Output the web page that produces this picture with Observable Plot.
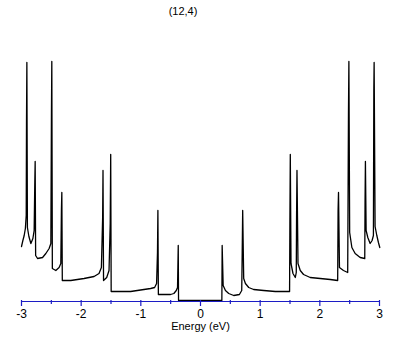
<!DOCTYPE html>
<html>
<head>
<meta charset="utf-8">
<script src="https://cdn.jsdelivr.net/npm/d3@7"></script>
<script src="https://cdn.jsdelivr.net/npm/@observablehq/plot@0.6"></script>
<style>
  html, body { margin: 0; padding: 0; background: #fff; }
  #wrap { position: relative; width: 409px; height: 345px; }
  #title { position: absolute; top: 5px; left: 183px; transform: translateX(-50%);
           font: 11px "Liberation Sans", "DejaVu Sans", sans-serif; color: #000; white-space: nowrap; }
</style>
</head>
<body>
<div id="wrap"><div id="title"></div></div>
<script>
const title = "(12,4)";
const xLabel = "Energy (eV)";
const xTicks = [-3, -2, -1, 0, 1, 2, 3];
const tickLabels = ["-3", "-2", "-1", "0", "1", "2", "3"];
const xMinorTicks = [-2.5, -1.5, -0.5, 0.5, 1.5, 2.5];

// Energy (eV) and density of states (arbitrary units)
const energy = [
  -3.000, -2.977, -2.955, -2.935, -2.921, -2.916, -2.910, -2.901, -2.876, -2.843,
  -2.809, -2.788, -2.777, -2.771, -2.763, -2.731, -2.647, -2.592, -2.537, -2.508,
  -2.498, -2.492, -2.483, -2.425, -2.370, -2.341, -2.331, -2.324, -2.316, -2.174,
  -1.952, -1.784, -1.701, -1.661, -1.640, -1.634, -1.625, -1.572, -1.533, -1.513,
  -1.505, -1.497, -1.171, -0.948, -0.836, -0.769, -0.736, -0.721, -0.714, -0.706,
  -0.502, -0.446, -0.406, -0.385, -0.373, -0.368, 0.358,
  0.363, 0.380, 0.418, 0.473, 0.557, 0.652, 0.691, 0.699, 0.707, 0.724,
  0.753, 0.808, 0.891, 1.059, 1.254, 1.493, 1.498, 1.505, 1.517, 1.550,
  1.589, 1.605, 1.610, 1.617, 1.634, 1.672, 1.727, 1.839, 2.007, 2.174,
  2.299, 2.306, 2.313, 2.329, 2.396, 2.467, 2.480, 2.487, 2.500, 2.537,
  2.592, 2.676, 2.753, 2.758, 2.764, 2.776, 2.804, 2.843, 2.876, 2.898,
  2.905, 2.910, 2.926, 2.955, 2.982, 3.005
];
const dos = [
  0.54, 0.60, 0.65, 0.72, 0.85, 1.80, 2.38, 0.73, 0.64, 0.57,
  0.62, 0.70, 1.18, 1.39, 0.45, 0.42, 0.43, 0.47, 0.52, 0.57,
  1.88, 2.39, 0.32, 0.30, 0.33, 0.37, 0.90, 1.08, 0.20, 0.20,
  0.22, 0.24, 0.27, 0.33, 0.83, 1.30, 0.20, 0.23, 0.30, 0.77,
  1.46, 0.09, 0.09, 0.11, 0.12, 0.13, 0.17, 0.48, 0.90, 0.06,
  0.06, 0.07, 0.10, 0.13, 0.55, 0.00, 0.00,
  0.55, 0.15, 0.10, 0.07, 0.05, 0.06, 0.10, 0.48, 0.90, 0.22,
  0.17, 0.13, 0.11, 0.10, 0.09, 0.09, 0.77, 1.46, 0.37, 0.27,
  0.23, 0.28, 0.83, 1.30, 0.37, 0.30, 0.26, 0.23, 0.22, 0.21,
  0.20, 0.90, 1.08, 0.33, 0.30, 0.28, 1.87, 2.39, 0.68, 0.53,
  0.47, 0.43, 0.42, 1.00, 1.39, 0.70, 0.63, 0.57, 0.60, 0.65,
  2.12, 2.38, 0.74, 0.65, 0.58, 0.53
];

const data = energy.map((e, i) => ({energy: e, dos: dos[i]}));
const blue = "#1c1cc4";
const font = "11px";

const chart = Plot.plot({
  width: 409,
  height: 345,
  marginLeft: 21,
  marginRight: 30,
  marginTop: 60,
  marginBottom: 45,
  style: {fontFamily: "'Liberation Sans', 'DejaVu Sans', sans-serif", fontSize: font, color: "#000", background: "#fff"},
  x: {domain: [-3, 3]},
  y: {domain: [0, 2.4], axis: null},
  marks: [
    Plot.lineY(data, {x: "energy", y: "dos", stroke: "#000", strokeWidth: 1.3, clip: false}),
    Plot.ruleY([0], {stroke: blue, strokeWidth: 1.2, dy: 1}),
    Plot.axisX({ticks: xTicks, tickSize: 6, tickPadding: 3, stroke: blue, strokeWidth: 1.2,
                fill: "#000", fontSize: 12, tickFormat: d => tickLabels[xTicks.indexOf(d)], label: null}),
    Plot.axisX({ticks: xMinorTicks, tickSize: 4, text: null, stroke: blue, strokeWidth: 1.2, label: null}),
    Plot.text([xLabel], {frameAnchor: "bottom", dy: 29, fill: "#000", fontSize: 11})
  ]
});
document.getElementById("title").textContent = title;
document.getElementById("wrap").appendChild(chart);
</script>
</body>
</html>
